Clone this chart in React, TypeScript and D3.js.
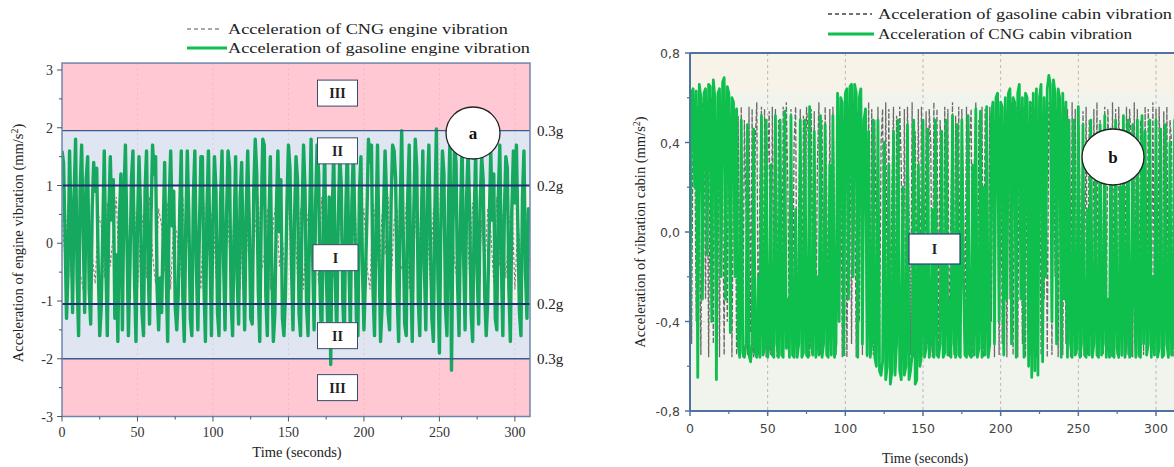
import React from "react";
import * as d3 from "d3";

// ---------- DATA ----------
// Panel a: engine vibration, one sample per second for gasoline, one per 2 s for CNG
const engineGasoline = [
  1.6, 1.4, 0.2, -1.3, -0.5, 1.6, 0.4, -1.2, 0.8, 1.8, -0.6, -1.6, 0.9, 1.7, 0.3, -1.2, 1.1, 1.5, -0.8, -1.4,
  0.6, 1.4, 0.9, 1.3, -0.4, -1.6, -1.1, 0.2, 1.6, -0.3, -1.6, 0.5, 1.5, 0.4, 1.1, -1.3, -0.2, -1.7, 0.4, 1.2,
  -1.5, 0.8, 1.7, 0.1, -1.6, -0.4, 1.1, 1.6, -0.6, -1.7, 0.3, 1.5, 0.6, -1.2, -1.6, 0.9, 1.6, -0.3, -1.4, 0.5,
  1.7, 1.2, 1.5, -0.8, -1.5, -0.6, -1.2, 0.2, 1.4, -0.5, -1.7, 0.7, 1.6, 0.3, 0.9, -1.1, -1.5, -0.9, 0.6, 1.6,
  -0.9, -1.7, 0.3, 1.6, 0.5, -1.3, -1.6, 0.8, 1.6, -0.4, -1.5, 0.2, 1.5, 1.5, -0.7, -1.7, 0.6, 1.6, -0.1, -1.6,
  0.4, 1.5, 0.9, -1.2, -1.6, 0.7, 1.6, -0.3, -1.5, 0.5, 1.6, 1.3, -1.0, -1.6, 0.2, 1.5, -0.6, -1.4, 0.8, 1.4,
  -0.2, -1.5, 0.6, 1.6, 0.4, -1.3, -1.4, 0.9, 1.8, 1.2, -0.8, -1.7, 0.5, 1.8, 1.7, -0.9, -1.6, 0.3, 1.5, -0.5,
  -1.7, -1.2, 0.6, 1.6, 0.2, 1.1, -1.3, -1.6, -0.9, 0.7, 1.7, 1.3, -0.4, -1.5, 0.4, 1.5, 1.1, -1.2, -1.6, 0.5,
  1.7, 0.9, -1.1, -1.6, 0.4, 1.8, -0.2, -1.5, 0.7, 1.7, 1.2, -0.9, -1.7, 0.3, 1.6, -0.5, -1.4, 0.8, -2.1, 0.5,
  1.6, -0.6, -1.6, 0.4, 1.5, 1.0, -1.0, -1.7, 0.6, 1.7, -0.3, -1.5, 0.7, 1.6, 0.3, -1.3, -1.6, 0.9, 1.5, -0.4,
  -1.5, -0.6, 0.5, 1.8, 1.4, 1.7, -0.8, -1.6, 0.3, 1.7, -0.2, -1.7, -1.1, 0.6, 1.6, 0.8, -1.2, -1.5, 0.7, 1.7,
  1.6, 1.1, -0.9, -1.7, 0.6, 1.95, 0.2, -1.4, -1.6, 0.8, 1.7, -0.5, -1.7, 0.5, 1.8, 1.3, -1.0, -1.6, 0.3, 1.6,
  -0.4, -1.5, 0.9, 1.7, 0.1, -1.3, -1.7, 0.6, 1.98, -0.6, -1.9, 0.4, 1.6, 1.2, -1.1, -1.6, 0.7, 1.8, -2.2, 0.3,
  1.7, 1.4, -0.7, -1.6, 0.5, 1.7, -0.2, -1.5, 0.8, 1.6, 0.6, -1.2, -1.7, 0.4, 1.6, -0.5, -1.4, 0.7, 1.5, 1.1,
  -0.9, -1.6, -1.0, 0.3, 1.6, 0.4, 1.2, -1.3, -1.5, 0.8, 1.7, -0.3, -1.6, 0.5, 1.5, 1.3, -0.8, -1.7, 0.6, 1.6,
  0.7, 1.7, 0.2, -1.2, -1.6, 0.8, 1.6, -0.5, -1.3, 0.6, 0.4,
];
const engineCNG = [
  0.5, -0.3, 0.7, -0.6, 0.2, 0.8, -0.5, -0.8, 0.4, 0.6, -0.2, -0.7, 0.5, 0.3, -0.6, 0.7, -0.4, 0.2, 0.8, -0.7,
  -0.3, 0.6, -0.5, 0.4, 0.7, -0.8, 0.1, 0.5, -0.6, 0.8, -0.2, -0.7, 0.6, 0.3, -0.5, 0.7, -0.8, 0.4, 0.2, -0.6,
  0.8, -0.3, 0.5, -0.7, 0.6, 0.1, -0.8, 0.7, -0.4, 0.3, 0.6, -0.6, -0.2, 0.8, -0.5, 0.4, -0.7, 0.6, 0.2, -0.8,
  0.5, -0.3, 0.7, -0.6, 0.3, 0.8, -0.5, -0.2, 0.6, -0.8, 0.4, 0.7, -0.4, 0.1, -0.7, 0.8, -0.3, 0.5, -0.6, 0.6,
  -0.8, 0.3, 0.7, -0.5, 0.2, -0.7, 0.8, -0.4, 0.5, 0.6, -0.6, -0.1, 0.7, -0.8, 0.4, 0.3, -0.5, 0.8, -0.7, 0.2,
  0.6, -0.4, -0.8, 0.7, 0.3, -0.6, 0.5, -0.2, 0.8, -0.7, 0.4, 0.6, -0.5, -0.3, 0.7, -0.8, 0.2, 0.5, -0.6, 0.8,
  -0.4, 0.3, -0.7, 0.6, 0.1, -0.8, 0.7, -0.5, 0.4, 0.6, -0.3, -0.7, 0.8, -0.2, 0.5, -0.6, 0.7, 0.3, -0.8, 0.4,
  -0.5, 0.6, 0.2, -0.7, 0.8, -0.4, 0.5, -0.6, 0.3, 0.7, -0.8, 0.4, -0.3, 0.6, 0.5, -0.4,
];
const engineStepGasoline = 1;
const engineStepCNG = 2;
const zoneLines = [
  { value: 1.95, label: "0.3g", strong: false },
  { value: 1.0, label: "0.2g", strong: true },
  { value: -1.05, label: "0.2g", strong: true },
  { value: -2.0, label: "0.3g", strong: false },
];
const zoneLabels = [
  { label: "III", value: 2.6 },
  { label: "II", value: 1.6 },
  { label: "I", value: -0.25 },
  { label: "II", value: -1.6 },
  { label: "III", value: -2.5 },
];
const engineYTicks = [-3, -2, -1, 0, 1, 2, 3];
const engineYMinor = [-2.5, -1.5, -0.5, 0.5, 1.5, 2.5];
const timeTicks = [0, 50, 100, 150, 200, 250, 300];
const timeMinor = [25, 75, 125, 175, 225, 275];

// Panel b: cabin vibration, one sample per second
const cabinCNG = [
  -0.42, 0.62, 0.64, 0.2, 0.63,
  -0.65, 0.66, 0.6, -0.3, 0.62,
  0.64, -0.1, 0.66, 0.65, -0.4,
  0.68, 0.6, -0.66, 0.62, 0.64,
  -0.2, 0.67, 0.69, -0.3, 0.65,
  0.62, -0.45, 0.6, 0.58, -0.2,
  0.55, -0.5, -0.56, 0.5, -0.54,
  -0.56, -0.5, 0.48, -0.55, -0.58,
  -0.5, 0.46, -0.54, -0.56, -0.2,
  -0.56, 0.52, -0.55, -0.52, 0.5,
  -0.56, -0.5, 0.3, -0.55, -0.56,
  0.52, -0.5, -0.56, 0.5, -0.55,
  -0.56, 0.54, -0.52, -0.3, -0.56,
  0.52, -0.55, -0.56, 0.1, -0.56,
  -0.5, 0.5, -0.56, -0.54, 0.5,
  -0.55, -0.56, 0.56, -0.5, -0.55,
  0.45, -0.56, -0.2, -0.55, 0.52,
  -0.56, -0.5, 0.48, -0.55, -0.56,
  0.3, -0.55, 0.52, -0.56, -0.5,
  0.62, -0.4, 0.6, 0.58, -0.55,
  0.62, 0.64, -0.3, 0.65, 0.66,
  -0.2, 0.66, 0.62, -0.56, 0.6,
  0.64, -0.5, 0.5, 0.55, -0.55,
  0.45, -0.56, -0.5, 0.5, -0.56,
  -0.6, 0.5, -0.62, -0.64, -0.58,
  0.4, -0.66, -0.6, 0.3, -0.68,
  -0.62, 0.45, -0.64, -0.5, 0.5,
  -0.62, -0.66, 0.2, -0.64, -0.6,
  0.48, -0.66, -0.62, -0.55, 0.5,
  -0.68, -0.66, 0.3, -0.6, -0.55,
  0.5, -0.56, -0.52, 0.46, -0.56,
  -0.5, 0.1, -0.56, 0.5, -0.55,
  -0.56, -0.5, 0.45, -0.56, -0.54,
  0.5, -0.55, -0.3, -0.56, 0.52,
  -0.5, -0.56, 0.48, -0.55, -0.56,
  0.5, -0.2, -0.55, -0.56, 0.52,
  -0.55, -0.56, 0.3, -0.55, 0.55,
  -0.56, -0.52, 0.54, -0.56, 0.2,
  -0.55, 0.56, -0.56, -0.5, 0.52,
  0.58, -0.5, 0.6, 0.62, -0.4,
  0.58, 0.56, -0.55, 0.6, -0.3,
  0.62, 0.64, -0.5, 0.6, 0.58,
  -0.56, 0.62, 0.66, -0.3, 0.6,
  -0.56, 0.62, 0.6, -0.6, 0.58,
  -0.65, 0.62, -0.62, 0.64, -0.64,
  0.6, 0.66, -0.58, 0.6, -0.2,
  0.64, 0.7, 0.66, -0.4, 0.68,
  0.62, -0.5, 0.64, 0.6, -0.56,
  0.62, -0.3, 0.58, -0.56, 0.5,
  -0.5, -0.56, 0.5, -0.55, -0.52,
  0.56, -0.56, -0.5, 0.48, -0.55,
  -0.56, 0.1, -0.55, 0.5, -0.56,
  -0.5, 0.3, -0.55, -0.56, 0.48,
  -0.55, -0.5, 0.52, -0.56, -0.3,
  -0.56, 0.46, -0.55, -0.56, 0.5,
  -0.52, -0.56, 0.2, -0.55, 0.52,
  -0.56, -0.5, 0.5, -0.56, -0.55,
  0.48, -0.3, -0.56, 0.5, -0.55,
  -0.56, 0.52, -0.5, 0.45, -0.55,
  -0.5, 0.5, -0.56, -0.2, -0.55,
  0.5, -0.56, -0.52, 0.46, -0.56,
  -0.55, 0.48, -0.5, -0.56, 0.4,
  -0.55, -0.5, 0.5, -0.56, -0.55,
  0.45,
];
const cabinGasoline = [
  0.3, -0.5, 0.55, 0.5, -0.4, 0.56, 0.1, -0.55, 0.58, 0.52, -0.3, 0.55, -0.56, 0.4, 0.6, -0.5, 0.55, -0.2, 0.5, -0.56,
  0.56, 0.2, -0.55, 0.58, -0.4, 0.55, 0.5, -0.56, 0.3, 0.55, -0.55, 0.52, -0.3, 0.56, -0.56, 0.5, 0.1, -0.55, 0.56, -0.45,
  0.55, -0.56, 0.4, 0.58, -0.55, 0.2, 0.56, -0.5, 0.55, -0.56, 0.3, 0.54, -0.55, 0.56, -0.2, 0.55, -0.56, 0.5, 0.3, -0.55,
  0.56, -0.4, 0.58, 0.2, -0.56, 0.55, -0.5, 0.4, 0.56, -0.56, 0.1, 0.55, -0.55, 0.52, -0.3, 0.56, 0.45, -0.56, 0.55, -0.2,
  0.54, -0.56, 0.3, 0.58, -0.55, 0.5, -0.4, 0.56, 0.2, -0.56, 0.55, -0.5, 0.56, 0.1, -0.55, 0.58, -0.3, 0.52, -0.56, 0.4,
  0.55, -0.56, 0.2, 0.56, -0.5, 0.55, 0.3, -0.56, 0.54, -0.4, 0.56, -0.55, 0.5, 0.1, -0.56, 0.58, -0.3, 0.55, -0.55, 0.5,
  -0.2, 0.56, -0.56, 0.4, 0.55, -0.5, 0.58, -0.3, 0.55, -0.56, 0.2, 0.56, -0.55, 0.52, -0.4, 0.56, 0.3, -0.56, 0.55, -0.5,
  0.56, 0.1, -0.55, 0.58, -0.56, 0.45, -0.3, 0.55, -0.55, 0.56, 0.2, -0.56, 0.54, -0.5, 0.55, 0.4, -0.56, 0.58, -0.2, 0.55,
  -0.56, 0.5, 0.3, -0.55, 0.56, -0.45, 0.55, -0.56, 0.1, 0.58, -0.55, 0.52, -0.3, 0.56, -0.56, 0.55, 0.2, -0.5, 0.56, -0.55,
  0.4, 0.55, -0.56, 0.3, 0.58, -0.55, 0.5, -0.2, 0.56, -0.56, 0.55, 0.1, -0.55, 0.56, -0.4, 0.55, -0.56, 0.58, 0.3, -0.55,
  0.56, -0.5, 0.2, 0.55, -0.56, 0.54, -0.3, 0.58, -0.55, 0.4, 0.56, -0.56, 0.55, 0.1, -0.5, 0.56, -0.56, 0.5, 0.3, -0.55,
  0.58, -0.4, 0.55, -0.56, 0.2, 0.56, -0.55, 0.52, -0.3, 0.55, -0.56, 0.58, 0.4, -0.55, 0.56, -0.2, 0.55, -0.56, 0.5, 0.1,
  -0.55, 0.56, -0.5, 0.55, 0.3, -0.56, 0.58, -0.4, 0.55, -0.55, 0.56, 0.2, -0.56, 0.54, -0.3, 0.56, -0.55, 0.5, 0.4, -0.56,
  0.55, -0.2, 0.58, -0.56, 0.5, 0.1, -0.55, 0.56, -0.5, 0.55, 0.3, -0.56, 0.58, -0.4, 0.55, -0.55, 0.56, 0.2, -0.56, 0.52,
  -0.3, 0.56, -0.55, 0.55, 0.4, -0.56, 0.58, -0.2, 0.55, -0.56, 0.5, 0.1, -0.55, 0.56, -0.5, 0.55, 0.3, -0.56, 0.58, -0.4,
  0.55, -0.55, 0.56, 0.2, -0.56, 0.54, -0.3, 0.56, -0.55, 0.5, 0.4, -0.56, 0.55, -0.2, 0.56, -0.5,
];
const cabinStep = 1;
const cabinYTicks = [-0.8, -0.4, 0, 0.4, 0.8];
const cabinYMinor = [-0.6, -0.2, 0.2, 0.6];

// ---------- LAYOUT ----------
const W = 1174;
const H = 467;
const SERIF = "'Liberation Serif', 'Times New Roman', serif";
const SANS = "'DejaVu Sans', Verdana, sans-serif";

const GREEN_A = "#16a85e";
const GREEN_B = "#0fbf4d";

export default function App() {
  const xA = d3.scaleLinear().domain([0, 310]).range([62, 530]);
  const yA = d3.scaleLinear().domain([-3, 3]).range([416.5, 70]);
  const topA = 3.12;
  const lineA = d3
    .line<[number, number]>()
    .x((d) => xA(d[0]))
    .y((d) => yA(d[1]));
  const gasPts: [number, number][] = engineGasoline.map((v, i) => [i * engineStepGasoline, v]);
  const cngPts: [number, number][] = engineCNG.map((v, i) => [i * engineStepCNG, v]);

  const xB = d3.scaleLinear().domain([0, 300]).range([690, 1156]);
  const yB = d3.scaleLinear().domain([-0.8, 0.8]).range([411, 53]);
  const rightB = 1185;
  const lineB = d3
    .line<[number, number]>()
    .x((d) => xB(d[0]))
    .y((d) => yB(d[1]));
  const cabCNGPts: [number, number][] = cabinCNG.map((v, i) => [i * cabinStep, v]);
  const cabGasPts: [number, number][] = cabinGasoline.map((v, i) => [i * cabinStep, v]);
  const fmtB = (v: number) => d3.format(".1f")(v).replace(".", ",").replace("−", "-");

  const aL = xA(0), aR = xA(310), aT = yA(topA), aB = yA(-3);
  const bL = xB(0), bT = yB(0.8), bB = yB(-0.8);

  return (
    <svg
      width={W}
      height={H}
      style={{ position: "absolute", left: 0, top: 0, background: "#fff" }}
    >
      <defs>
        <clipPath id="clipA">
          <rect x={aL} y={aT} width={aR - aL} height={aB - aT} />
        </clipPath>
        <clipPath id="clipB">
          <rect x={bL} y={bT} width={rightB - bL} height={bB - bT} />
        </clipPath>
      </defs>

      {/* ================= PANEL A ================= */}
      <rect x={aL} y={aT} width={aR - aL} height={yA(zoneLines[0].value) - aT} fill="#ffc8d3" />
      <rect
        x={aL}
        y={yA(zoneLines[0].value)}
        width={aR - aL}
        height={yA(zoneLines[3].value) - yA(zoneLines[0].value)}
        fill="#dfe6f2"
      />
      <rect
        x={aL}
        y={yA(zoneLines[1].value)}
        width={aR - aL}
        height={yA(zoneLines[2].value) - yA(zoneLines[1].value)}
        fill="#f6f3ef"
      />
      <rect x={aL} y={yA(zoneLines[3].value)} width={aR - aL} height={aB - yA(zoneLines[3].value)} fill="#ffc8d3" />
      {timeTicks.slice(1).map((t) => (
        <line key={"ga" + t} x1={xA(t)} x2={xA(t)} y1={aT} y2={aB} stroke="#e8a8b8" strokeWidth={0.8} strokeDasharray="2,3" opacity={0.6} />
      ))}
      <g clipPath="url(#clipA)">
        <path d={lineA(cngPts) || ""} fill="none" stroke="#8c7b80" strokeWidth={1.1} strokeDasharray="3,2" />
        <path d={lineA(gasPts) || ""} fill="none" stroke={GREEN_A} strokeWidth={3.4} strokeLinejoin="round" />
      </g>
      {zoneLines.map((z, i) => (
        <g key={"zl" + i}>
          <line
            x1={aL}
            x2={aR}
            y1={yA(z.value)}
            y2={yA(z.value)}
            stroke={z.strong ? "#1c2f72" : "#3b5a8c"}
            strokeWidth={z.strong ? 2 : 1.3}
          />
          <text x={537} y={yA(z.value) + 5} fontFamily={SERIF} fontSize={15} fill="#222">
            {z.label}
          </text>
        </g>
      ))}
      <rect x={aL} y={aT} width={aR - aL} height={aB - aT} fill="none" stroke="#6d86ad" strokeWidth={1.5} />
      {zoneLabels.map((z, i) => {
        const w = z.label === "I" ? 45 : 40;
        const cx = z.label === "I" ? 335.5 : 337.5;
        return (
          <g key={"zb" + i}>
            <rect x={cx - w / 2} y={yA(z.value) - 13} width={w} height={26} fill="#fff" stroke="#3a4a6a" strokeWidth={1} />
            <text x={cx} y={yA(z.value) + 5} textAnchor="middle" fontFamily={SERIF} fontSize={14} fontWeight="bold" fill="#222">
              {z.label}
            </text>
          </g>
        );
      })}
      <ellipse cx={473} cy={133} rx={27} ry={26} fill="#fff" stroke="#222" strokeWidth={1.3} />
      <text x={473} y={139} textAnchor="middle" fontFamily={SERIF} fontSize={17} fontWeight="bold" fill="#111">
        a
      </text>
      {engineYTicks.map((t) => (
        <g key={"ya" + t}>
          <line x1={aL - 5} x2={aL} y1={yA(t)} y2={yA(t)} stroke="#555" strokeWidth={1} />
          <text x={aL - 9} y={yA(t) + 5} textAnchor="end" fontFamily={SERIF} fontSize={14} fill="#333">
            {t < 0 ? "-" + Math.abs(t) : t}
          </text>
        </g>
      ))}
      {engineYMinor.map((t) => (
        <line key={"yam" + t} x1={aL - 3} x2={aL} y1={yA(t)} y2={yA(t)} stroke="#555" strokeWidth={1} />
      ))}
      {timeTicks.map((t) => (
        <g key={"xa" + t}>
          <line x1={xA(t)} x2={xA(t)} y1={aB} y2={aB + 5} stroke="#555" strokeWidth={1} />
          <text x={xA(t)} y={aB + 20} textAnchor="middle" fontFamily={SERIF} fontSize={14} fill="#333">
            {t}
          </text>
        </g>
      ))}
      {timeMinor.map((t) => (
        <line key={"xam" + t} x1={xA(t)} x2={xA(t)} y1={aB} y2={aB + 3} stroke="#555" strokeWidth={1} />
      ))}
      <text x={297} y={457} textAnchor="middle" fontFamily={SERIF} fontSize={14.5} fill="#222">
        Time (seconds)
      </text>
      <text
        transform={`translate(23,${243}) rotate(-90)`}
        textAnchor="middle"
        fontFamily={SERIF}
        fontSize={14.5}
        fill="#222"
      >
        Acceleration of engine vibration (mm/s<tspan dy={-5} fontSize={10}>2</tspan><tspan dy={5}>)</tspan>
      </text>
      <line x1={187} x2={222} y1={29} y2={29} stroke="#555" strokeWidth={1.2} strokeDasharray="4,3" />
      <text x={228} y={34} fontFamily={SERIF} fontSize={14.5} fill="#222" textLength={280} lengthAdjust="spacingAndGlyphs">
        Acceleration of CNG engine vibration
      </text>
      <line x1={187} x2={227} y1={48} y2={48} stroke={GREEN_B} strokeWidth={3} />
      <text x={228} y={53} fontFamily={SERIF} fontSize={14.5} fill="#222" textLength={302} lengthAdjust="spacingAndGlyphs">
        Acceleration of gasoline engine vibration
      </text>

      {/* ================= PANEL B ================= */}
      <rect x={bL} y={bT} width={rightB - bL} height={bB - bT} fill="#f1f4ec" />
      <rect x={bL} y={bT} width={rightB - bL} height={yB(0.62) - bT} fill="#f7f3e8" />
      {timeTicks.slice(1).map((t) => (
        <line key={"gb" + t} x1={xB(t)} x2={xB(t)} y1={bT} y2={bB} stroke="#b8b8b8" strokeWidth={1} strokeDasharray="3,3" />
      ))}
      {cabinYTicks.slice(1, -1).map((t) => (
        <line key={"gbh" + t} x1={bL} x2={rightB} y1={yB(t)} y2={yB(t)} stroke="#d0d0d0" strokeWidth={0.8} strokeDasharray="3,3" />
      ))}
      <g clipPath="url(#clipB)">
        <path d={lineB(cabGasPts) || ""} fill="none" stroke="#6a6a6a" strokeWidth={1.3} strokeDasharray="5,2" />
        <path d={lineB(cabCNGPts) || ""} fill="none" stroke={GREEN_B} strokeWidth={2.8} strokeLinejoin="round" />
      </g>
      <line x1={bL} x2={rightB} y1={bT} y2={bT} stroke="#4f72a0" strokeWidth={2} />
      <line x1={bL} x2={rightB} y1={bB} y2={bB} stroke="#4f72a0" strokeWidth={2} />
      <line x1={bL} x2={bL} y1={bT} y2={bB} stroke="#4f72a0" strokeWidth={2} />
      <rect x={909} y={234} width={51} height={30} fill="#fff" stroke="#2a3f7a" strokeWidth={1.2} />
      <text x={934.5} y={254} textAnchor="middle" fontFamily={SERIF} fontSize={14} fontWeight="bold" fill="#222">
        I
      </text>
      <ellipse cx={1113} cy={157} rx={31} ry={28} fill="#fff" stroke="#222" strokeWidth={1.3} />
      <text x={1113} y={163} textAnchor="middle" fontFamily={SERIF} fontSize={17} fontWeight="bold" fill="#111">
        b
      </text>
      {cabinYTicks.map((t) => (
        <g key={"yb" + t}>
          <line x1={bL - 5} x2={bL} y1={yB(t)} y2={yB(t)} stroke="#4f72a0" strokeWidth={1.5} />
          <text x={bL - 10} y={yB(t) + 5} textAnchor="end" fontFamily={SANS} fontSize={12.5} fill="#444">
            {fmtB(t)}
          </text>
        </g>
      ))}
      {cabinYMinor.map((t) => (
        <line key={"ybm" + t} x1={bL - 3} x2={bL} y1={yB(t)} y2={yB(t)} stroke="#4f72a0" strokeWidth={1.2} />
      ))}
      {timeTicks.map((t) => (
        <g key={"xb" + t}>
          <line x1={xB(t)} x2={xB(t)} y1={bB} y2={bB + 5} stroke="#4f72a0" strokeWidth={1.5} />
          <text x={xB(t)} y={bB + 22} textAnchor="middle" fontFamily={SANS} fontSize={12.5} fill="#444">
            {t}
          </text>
        </g>
      ))}
      {timeMinor.map((t) => (
        <line key={"xbm" + t} x1={xB(t)} x2={xB(t)} y1={bB} y2={bB + 3} stroke="#4f72a0" strokeWidth={1.2} />
      ))}
      <text x={925} y={463} textAnchor="middle" fontFamily={SERIF} fontSize={14} fill="#222">
        Time (seconds)
      </text>
      <text
        transform={`translate(645,${232}) rotate(-90)`}
        textAnchor="middle"
        fontFamily={SERIF}
        fontSize={14.5}
        fill="#222"
      >
        Acceleration of vibration cabin (mm/s<tspan dy={-5} fontSize={10}>2</tspan><tspan dy={5}>)</tspan>
      </text>
      <line x1={828} x2={872} y1={14} y2={14} stroke="#444" strokeWidth={1.3} strokeDasharray="4,3" />
      <text x={878} y={19} fontFamily={SERIF} fontSize={14} fill="#222" textLength={294} lengthAdjust="spacingAndGlyphs">
        Acceleration of gasoline cabin vibration
      </text>
      <line x1={828} x2={874} y1={34} y2={34} stroke={GREEN_B} strokeWidth={3} />
      <text x={878} y={39} fontFamily={SERIF} fontSize={14} fill="#222" textLength={254} lengthAdjust="spacingAndGlyphs">
        Acceleration of CNG cabin vibration
      </text>
    </svg>
  );
}
